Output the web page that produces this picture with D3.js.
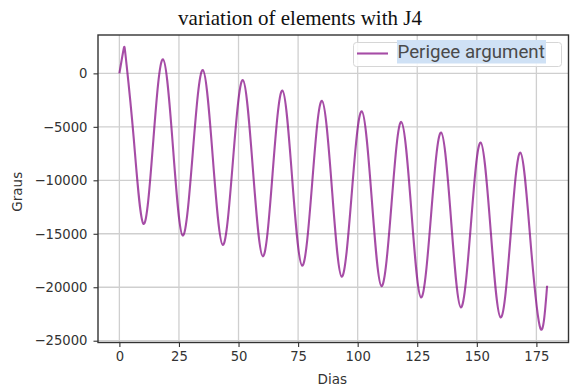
<!DOCTYPE html>
<html>
<head>
<meta charset="utf-8">
<script src="https://cdn.jsdelivr.net/npm/d3@7"></script>
<style>
  html, body { margin: 0; padding: 0; background: #fff; }
  svg { display: block; }
</style>
</head>
<body>
<svg id="chart" width="574" height="387"></svg>
<script>
// Perigee argument (degrees) versus elapsed days, with J4 perturbation.
// Points at each crest, trough and half-way level of the oscillation.
const dias = [
  0, 1.8, 2.8, 5.95, 10.1, 14.2, 18.3, 22.5, 26.6, 30.8, 35.0, 39.2, 43.4,
  47.6, 51.8, 56.0, 60.2, 64.3, 68.4, 72.5, 76.7, 80.9, 85.0, 89.2, 93.3,
  97.5, 101.7, 105.9, 110.0, 114.2, 118.3, 122.5, 126.6, 130.8, 135.0, 139.2, 143.3,
  147.5, 151.6, 155.8, 160.0, 164.2, 168.3, 172.5, 176.7, 179.5
];
const graus = [
  0, 2280, 1250, -5895, -14070, -6380, 1310, -6930, -15170, -7430, 310, -7865, -16040,
  -8335, -630, -8870, -17110, -9355, -1600, -9790, -17980, -10275, -2570, -10790, -19010,
  -11275, -3540, -11720, -19900, -12220, -4540, -12750, -20960, -13245, -5530, -13710, -21890,
  -14180, -6470, -14650, -22830, -15120, -7410, -15635, -23860, -19860
];
const xTicks = [0, 25, 50, 75, 100, 125, 150, 175];
const yTicks = [0, -5000, -10000, -15000, -20000, -25000];
const title = "variation of elements with J4";
const xLabel = "Dias";
const yLabel = "Graus";
const seriesName = "Perigee argument";

const points = dias.map((d, i) => ({ x: d, y: graus[i] }));

const svg = d3.select("#chart");
const plot = { left: 98, right: 568.5, top: 35, bottom: 342.5 };

// 5% padding around the data extent on both axes
function padded(ext) {
  const span = ext[1] - ext[0];
  return [ext[0] - span * 0.05, ext[1] + span * 0.05];
}
const x = d3.scaleLinear().domain(padded(d3.extent(dias))).range([plot.left, plot.right]);
const y = d3.scaleLinear().domain(padded(d3.extent(graus))).range([plot.bottom, plot.top]);

const tickFont = "DejaVu Sans, sans-serif";
const textColor = "#333";

// grid
const grid = svg.append("g").attr("stroke", "#cfcfcf").attr("stroke-width", 1.3);
grid.selectAll("line.v").data(xTicks).join("line")
  .attr("x1", d => x(d)).attr("x2", d => x(d))
  .attr("y1", plot.top).attr("y2", plot.bottom);
grid.selectAll("line.h").data(yTicks).join("line")
  .attr("x1", plot.left).attr("x2", plot.right)
  .attr("y1", d => y(d)).attr("y2", d => y(d));

// series
const line = d3.line().x(d => x(d.x)).y(d => y(d.y)).curve(d3.curveNatural);
svg.append("path")
  .datum(points)
  .attr("d", line)
  .attr("fill", "none")
  .attr("stroke", "#800080")
  .attr("stroke-opacity", 0.7)
  .attr("stroke-width", 2.1)
  .attr("stroke-linejoin", "round");

// axes
const fmt = d => d < 0 ? "\u2212" + Math.abs(d) : String(d);
const xAxis = svg.append("g")
  .attr("transform", `translate(0,${plot.bottom})`)
  .call(d3.axisBottom(x).tickValues(xTicks).tickFormat(fmt).tickSizeOuter(0).tickSize(4.5).tickPadding(5));
const yAxis = svg.append("g")
  .attr("transform", `translate(${plot.left},0)`)
  .call(d3.axisLeft(y).tickValues(yTicks).tickFormat(fmt).tickSizeOuter(0).tickSize(4.5).tickPadding(6));
[xAxis, yAxis].forEach(g => {
  g.select(".domain").remove();
  g.selectAll(".tick line").attr("stroke", "#333").attr("stroke-width", 1.1);
  g.selectAll(".tick text")
    .attr("fill", textColor)
    .attr("font-family", tickFont)
    .attr("font-size", 13.2);
});

// frame
svg.append("rect")
  .attr("x", plot.left).attr("y", plot.top)
  .attr("width", plot.right - plot.left).attr("height", plot.bottom - plot.top)
  .attr("fill", "none").attr("stroke", "#333").attr("stroke-width", 1.4);

// axis labels
svg.append("text")
  .attr("x", (plot.left + plot.right) / 2 - 1).attr("y", 384)
  .attr("text-anchor", "middle")
  .attr("font-family", tickFont).attr("font-size", 13.5)
  .attr("fill", textColor)
  .text(xLabel);
svg.append("text")
  .attr("transform", `translate(22,${(plot.top + plot.bottom) / 2 + 3}) rotate(-90)`)
  .attr("text-anchor", "middle")
  .attr("font-family", tickFont).attr("font-size", 13.5)
  .attr("fill", textColor)
  .text(yLabel);

// title
svg.append("text")
  .attr("x", 300).attr("y", 25)
  .attr("text-anchor", "middle")
  .attr("font-family", "Liberation Serif, Times New Roman, serif")
  .attr("font-size", 21)
  .attr("fill", "#111")
  .text(title);

// legend
const legend = svg.append("g");
legend.append("rect")
  .attr("x", 353.5).attr("y", 42.5).attr("width", 208).attr("height", 24)
  .attr("rx", 3)
  .attr("fill", "#fff").attr("fill-opacity", 0.85)
  .attr("stroke", "#d6d6d6").attr("stroke-width", 1);
legend.append("rect")
  .attr("x", 397).attr("y", 40).attr("width", 149).attr("height", 23.5)
  .attr("fill", "#cfe1f5");
legend.append("line")
  .attr("x1", 357).attr("x2", 388).attr("y1", 53.5).attr("y2", 53.5)
  .attr("stroke", "#800080").attr("stroke-opacity", 0.7).attr("stroke-width", 2.1);
legend.append("text")
  .attr("x", 397.5).attr("y", 58.3)
  .attr("font-family", "Roboto, sans-serif").attr("font-size", 18.7)
  .attr("fill", "#4a4a4a")
  .text(seriesName);
</script>
</body>
</html>
